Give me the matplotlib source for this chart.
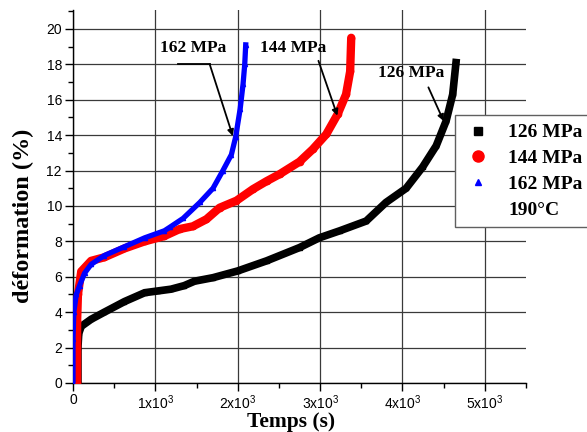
import matplotlib
matplotlib.use('Agg')
import matplotlib.pyplot as plt
from matplotlib.lines import Line2D
from matplotlib.ticker import MultipleLocator, FixedLocator, FixedFormatter

# Courbes de fluage (temps en s, déformation en %)
t_126 = [60, 60, 70, 100, 220, 380, 625, 870, 1030, 1190, 1350, 1475, 1700, 2000,
         2350, 2750, 2990, 3240, 3560, 3800, 4045, 4245, 4410, 4530, 4610, 4650]
eps_126 = [0, 2.0, 2.8, 3.2, 3.6, 4.0, 4.6, 5.1, 5.2, 5.3, 5.5, 5.75, 5.95, 6.33,
           6.9, 7.65, 8.2, 8.6, 9.15, 10.2, 11.0, 12.2, 13.4, 14.8, 16.3, 18.1]

t_144 = [50, 50, 60, 100, 220, 380, 625, 870, 1110, 1297, 1455, 1620, 1780, 1985,
         2185, 2350, 2510, 2750, 2910, 3075, 3215, 3315, 3365, 3378]
eps_144 = [0, 3.5, 5.0, 6.3, 6.9, 7.1, 7.6, 8.0, 8.3, 8.7, 8.85, 9.25, 9.9, 10.3,
           10.95, 11.4, 11.8, 12.5, 13.2, 14.05, 15.2, 16.3, 17.6, 19.5]

t_162 = [0, 0, 10, 40, 80, 140, 220, 380, 625, 870, 1110, 1176, 1337, 1540, 1700,
         1820, 1923, 1975, 2030, 2065, 2085, 2097]
eps_162 = [0, 2.5, 4.0, 5.0, 5.5, 6.2, 6.7, 7.2, 7.7, 8.2, 8.6, 8.8, 9.3, 10.2, 11.0,
           12.0, 12.9, 13.9, 15.5, 16.9, 18.0, 19.1]

series_labels = ['126 MPa', '144 MPa', '162 MPa']
temp_label = '190°C'

x_ticks = [0, 1000, 2000, 3000, 4000, 5000]
x_ticklabels = ['0', '1x10$^3$', '2x10$^3$', '3x10$^3$', '4x10$^3$', '5x10$^3$']

plt.rcParams['mathtext.fontset'] = 'custom'
plt.rcParams['mathtext.rm'] = 'Liberation Sans'
plt.rcParams['mathtext.default'] = 'regular'

serif = 'Liberation Serif'
sans = 'Liberation Sans'

fig = plt.figure(figsize=(5.87, 4.32), dpi=100)
ax = fig.add_axes([73 / 587, 1 - 383 / 432, 453 / 587, 373 / 432])

# Courbes épaisses (les points de mesure sont très serrés sur l'original)
ax.plot(t_126, eps_126, color='black', lw=5.5, marker='s', ms=3.5, solid_joinstyle='miter', zorder=3)
ax.plot(t_144, eps_144, color='red', lw=6, marker='o', ms=4.5, solid_capstyle='round', zorder=4)
ax.plot(t_162, eps_162, color='blue', lw=3.8, marker='^', ms=3, zorder=5)

ax.set_xlim(0, 5500)
ax.set_ylim(0, 21.07)

ax.xaxis.set_major_locator(FixedLocator(x_ticks))
ax.xaxis.set_major_formatter(FixedFormatter(x_ticklabels))
ax.xaxis.set_minor_locator(MultipleLocator(500))
ax.yaxis.set_major_locator(MultipleLocator(2))
ax.yaxis.set_minor_locator(MultipleLocator(1))

ax.grid(True, which='major', color='#3a3a3a', lw=0.9)
ax.set_axisbelow(True)
for s in ['top', 'right']:
    ax.spines[s].set_visible(False)
for s in ['left', 'bottom']:
    ax.spines[s].set_linewidth(1.0)

ax.tick_params(which='major', direction='out', length=6, width=1)
ax.tick_params(which='minor', direction='out', length=3.5, width=1)
ax.tick_params(axis='x', pad=1.5)
ax.tick_params(axis='y', pad=2)
for lab in ax.get_xticklabels() + ax.get_yticklabels():
    lab.set_fontfamily(sans)
    lab.set_fontsize(10)

# Titres des axes
fig.text(291 / 587, 1 - 427 / 432, 'Temps (s)', ha='center', va='baseline',
         family=serif, weight='bold', fontsize=15.5)
fig.text(23 / 587, 1 - 216 / 432, 'déformation (%)', ha='center', va='center',
         rotation=90, family=serif, weight='bold', fontsize=17.5)

# Annotations
arrow = dict(arrowstyle='-|>', color='black', lw=1.3, mutation_scale=9, shrinkA=0, shrinkB=0)
ax.text(1455, 18.9, '162 MPa', ha='center', va='center', family=serif, weight='bold', fontsize=12.5)
ax.plot([1270, 1660], [18.0, 18.0], color='black', lw=1.3, zorder=6)
ax.annotate('', xy=(1940, 13.95), xytext=(1660, 18.0), arrowprops=arrow, zorder=6)

ax.text(2670, 18.9, '144 MPa', ha='center', va='center', family=serif, weight='bold', fontsize=12.5)
ax.annotate('', xy=(3210, 15.1), xytext=(2980, 18.2), arrowprops=arrow, zorder=6)

ax.text(4110, 17.5, '126 MPa', ha='center', va='center', family=serif, weight='bold', fontsize=12.5)
ax.annotate('', xy=(4500, 14.8), xytext=(4315, 16.7), arrowprops=arrow, zorder=6)

# Légende (dépasse du bord droit comme sur l'original)
handles = [
    Line2D([], [], color='black', marker='s', ms=6, linestyle='none'),
    Line2D([], [], color='red', marker='o', ms=8, linestyle='none'),
    Line2D([], [], color='blue', marker='^', ms=5, linestyle='none'),
    Line2D([], [], marker='', linestyle='none'),
]
leg = fig.legend(handles, series_labels + [temp_label], loc='upper left',
                 bbox_to_anchor=(455 / 587, 1 - 115 / 432), borderaxespad=0,
                 prop={'family': serif, 'weight': 'bold', 'size': 14},
                 handlelength=1.5, handletextpad=0.8, borderpad=0.45,
                 labelspacing=0.42, fancybox=False, framealpha=1)
leg.get_frame().set_edgecolor('#606060')
leg.get_frame().set_linewidth(1.0)

fig.savefig('out.png', dpi=100)
